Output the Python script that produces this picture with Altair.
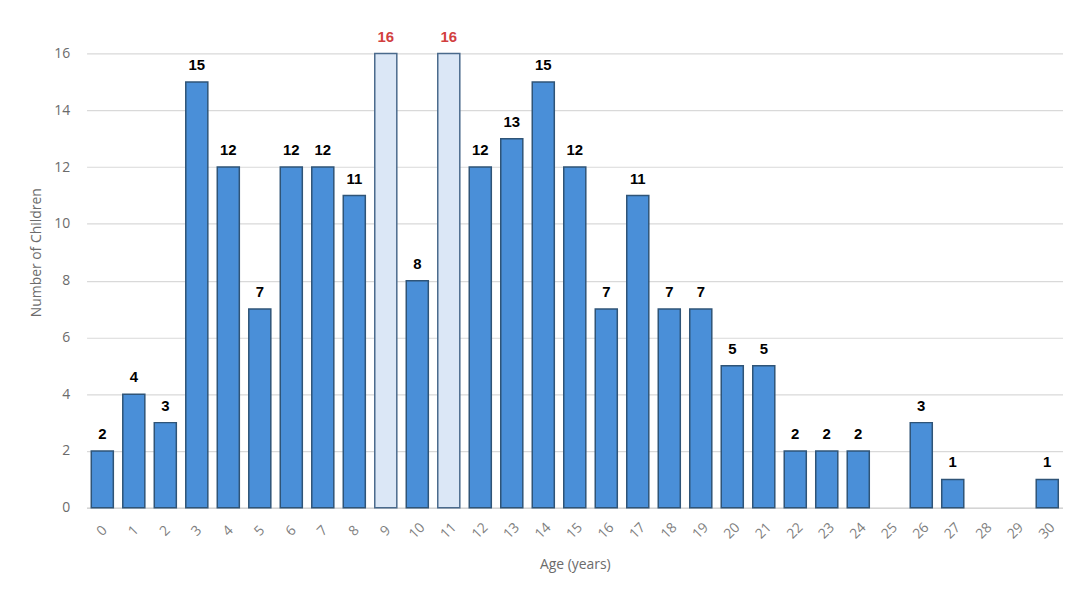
import altair as alt
import pandas as pd

ages = [str(a) for a in range(31)]
counts = [2, 4, 3, 15, 12, 7, 12, 12, 11, 16, 8, 16, 12, 13, 15, 12, 7, 11, 7, 7, 5, 5, 2, 2, 2, 0, 3, 1, 0, 0, 1]
highlight_ages = ["9", "11"]

df = pd.DataFrame({"age": ages, "count": counts})
df["hl"] = df["age"].isin(highlight_ages)
df["lab"] = df["count"].astype(str)

xscale = alt.Scale(domain=ages, paddingInner=0.3, paddingOuter=0.15)
x = alt.X("age:N", sort=ages, title="Age (years)", scale=xscale,
          axis=alt.Axis(labelAngle=-45, labelAlign="center", labelBaseline="middle",
                        labelPadding=23, ticks=False, labelColor="#7f7f7f", labelFontSize=14,
                        labelFont="Open Sans", titleFont="Open Sans", titleFontSize=14,
                        titleFontWeight="normal", titleColor="#6b6b6b", titlePadding=16,
                        domainColor="#d4d4d4", domainWidth=1.5))
y = alt.Y("count:Q", title="Number of Children",
          scale=alt.Scale(domain=[0, 18], nice=False),
          axis=alt.Axis(values=list(range(0, 19, 2)), ticks=False, domain=False,
                        labelPadding=17, labelColor="#6b6b6b", labelFontSize=14,
                        labelFont="Open Sans", titleFont="Open Sans", titleFontSize=14,
                        titleFontWeight="normal", titleColor="#6b6b6b", titlePadding=10,
                        gridColor="#d9d9d9", gridWidth=1.2))

base = alt.Chart(df).transform_filter("datum.count > 0")

bars = base.mark_bar(strokeWidth=1.5).encode(
    x=x, y=y,
    fill=alt.condition("datum.hl", alt.value("#dbe7f6"), alt.value("#4a8fd8")),
    stroke=alt.condition("datum.hl", alt.value("#4a6a8c"), alt.value("#2f5477")),
)

labels = base.mark_text(baseline="bottom", dy=-9, fontWeight="bold", fontSize=15,
                        font="Liberation Sans").encode(
    x=alt.X("age:N", sort=ages, scale=xscale), y="count:Q", text="lab:N",
    color=alt.condition("datum.hl", alt.value("#d23f3f"), alt.value("#000000")),
)

chart = (bars + labels).properties(
    width=982, height=514,
    autosize=alt.AutoSizeParams(type="none"),
    padding={"top": -13, "left": 79, "right": 0, "bottom": 80},
    background="white",
).configure_view(stroke=None)

chart.save("out.html", embed_options={"renderer": "svg", "actions": False})
